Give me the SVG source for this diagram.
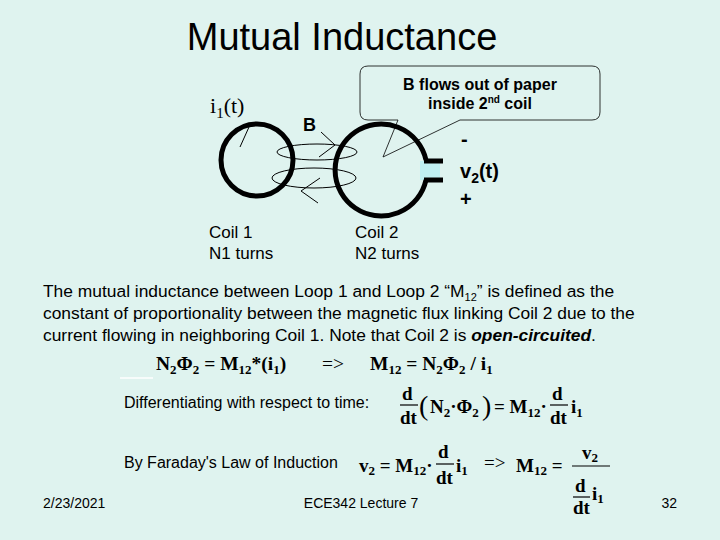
<svg xmlns="http://www.w3.org/2000/svg" width="720" height="540" viewBox="0 0 720 540">
<style>
.s{font-family:"Liberation Sans",Arial,sans-serif;fill:#000}
.t{font-family:"Liberation Serif","Times New Roman",serif;fill:#000;font-weight:bold}
.th{fill:none;stroke:#000;stroke-width:1}
</style>
<rect width="720" height="540" fill="#DFF3EF"/>
<text class="s" x="342" y="50" font-size="38" text-anchor="middle">Mutual Inductance</text>
<g id="callout">
<path d="M368,66 H592 Q600,66 600,74 V112 Q600,120 592,120 H460 L383,157 L398,120 H368 Q360,120 360,112 V74 Q360,66 368,66 Z" fill="none" stroke="#000" stroke-width="0.8"/>
<text class="s" x="480" y="90" font-size="16" font-weight="bold" text-anchor="middle">B flows out of paper</text>
<text class="s" x="480" y="109" font-size="16" font-weight="bold" text-anchor="middle">inside 2<tspan font-size="10" dy="-6">nd</tspan><tspan dy="6"> coil</tspan></text>
</g>
<g id="coil1">
<circle cx="257" cy="160" r="36" fill="none" stroke="#000" stroke-width="5"/>
<text x="210" y="113" font-family="Liberation Serif,serif" font-size="22">i<tspan font-size="15" dy="5">1</tspan><tspan dy="-5">(t)</tspan></text>
<line class="th" x1="249" y1="127" x2="240" y2="147"/>
<text class="s" x="209" y="238" font-size="17">Coil 1</text>
<text class="s" x="209" y="259" font-size="17">N1 turns</text>
</g>
<g id="coil2">
<rect x="420" y="161" width="20" height="19" fill="#BFEFF2"/>
<path d="M426,160 A46,46 0 1,0 426,180" fill="none" stroke="#000" stroke-width="5"/>
<line x1="424" y1="161" x2="443" y2="161" stroke="#000" stroke-width="5"/>
<line x1="424" y1="180" x2="443" y2="180" stroke="#000" stroke-width="5"/>
<text class="s" x="355" y="238" font-size="17">Coil 2</text>
<text class="s" x="355" y="259" font-size="17">N2 turns</text>
<text class="s" x="461" y="146" font-size="20" font-weight="bold">-</text>
<text class="s" x="460" y="178" font-size="20" font-weight="bold">v<tspan font-size="14" dy="5">2</tspan><tspan dy="-5">(t)</tspan></text>
<text class="s" x="460" y="206" font-size="20" font-weight="bold">+</text>
</g>
<g id="flux">
<ellipse class="th" cx="317" cy="152" rx="40" ry="8"/>
<ellipse class="th" cx="314" cy="178" rx="42" ry="10"/>
<polyline class="th" points="321,132 335,145 319,157"/>
<polyline class="th" points="320,178 301,191 318,203"/>
<text class="s" x="303" y="131" font-size="18" font-weight="bold">B</text>
</g>
<g id="body" class="s" font-size="17.4">
<text x="43" y="297">The mutual inductance between Loop 1 and Loop 2 “M<tspan font-size="11" dy="4">12</tspan><tspan dy="-4">” is defined as the</tspan></text>
<text x="43" y="319">constant of proportionality between the magnetic flux linking Coil 2 due to the</text>
<text x="43" y="341">current flowing in neighboring Coil 1.  Note that Coil 2 is <tspan font-weight="bold" font-style="italic">open-circuited</tspan>.</text>
</g>
<line x1="120" y1="378" x2="153" y2="378" stroke="#fff" stroke-width="1.5"/>
<g id="eq1" class="t" font-size="19.5">
<text x="156" y="370">N<tspan font-size="13" dy="4">2</tspan><tspan dy="-4">Φ</tspan><tspan font-size="13" dy="4">2</tspan><tspan dy="-4"> = M</tspan><tspan font-size="13" dy="4">12</tspan><tspan dy="-4">*(i</tspan><tspan font-size="13" dy="4">1</tspan><tspan dy="-4">)</tspan></text>
<text x="322" y="370" font-weight="normal">=&gt;</text>
<text x="370" y="370">M<tspan font-size="13" dy="4">12</tspan><tspan dy="-4"> = N</tspan><tspan font-size="13" dy="4">2</tspan><tspan dy="-4">Φ</tspan><tspan font-size="13" dy="4">2</tspan><tspan dy="-4"> / i</tspan><tspan font-size="13" dy="4">1</tspan></text>
</g>
<g id="eq2">
<text class="s" x="124" y="408" font-size="16">Differentiating with respect to time:</text>
<g class="t" font-size="19">
<text x="402" y="400">d</text><line x1="400" y1="405" x2="418" y2="405" stroke="#000" stroke-width="1.2"/><text x="400" y="424">dt</text>
<text x="419" y="415" font-size="28" font-weight="normal">(</text>
<text x="430" y="413">N<tspan font-size="13" dy="4">2</tspan><tspan dy="-4">·Φ</tspan><tspan font-size="13" dy="4">2</tspan></text>
<text x="482" y="415" font-size="28" font-weight="normal">)</text>
<text x="494" y="413">= M<tspan font-size="13" dy="4">12</tspan><tspan dy="-4">·</tspan></text>
<text x="552" y="400">d</text><line x1="550" y1="405" x2="568" y2="405" stroke="#000" stroke-width="1.2"/><text x="550" y="424">dt</text>
<text x="571" y="413">i<tspan font-size="13" dy="4">1</tspan></text>
</g>
</g>
<g id="eq3">
<text class="s" x="124" y="468" font-size="16">By Faraday's Law of Induction</text>
<g class="t" font-size="19">
<text x="359" y="472">v<tspan font-size="13" dy="3">2</tspan><tspan dy="-3"> = M</tspan><tspan font-size="13" dy="3">12</tspan><tspan dy="-3">·</tspan></text>
<text x="438" y="458">d</text><line x1="436" y1="464" x2="454" y2="464" stroke="#000" stroke-width="1.2"/><text x="436" y="484">dt</text>
<text x="456" y="472">i<tspan font-size="13" dy="3">1</tspan></text>
<text x="484" y="469" font-weight="normal">=&gt;</text>
<text x="516" y="472">M<tspan font-size="13" dy="3">12</tspan><tspan dy="-3"> =</tspan></text>
<text x="582" y="459">v<tspan font-size="13" dy="3">2</tspan></text>
<line x1="572" y1="466" x2="610" y2="466" stroke="#000" stroke-width="1.2"/>
<text x="575" y="492">d</text><line x1="573" y1="497" x2="590" y2="497" stroke="#000" stroke-width="1.2"/><text x="573" y="514">dt</text>
<text x="592" y="500">i<tspan font-size="13" dy="3">1</tspan></text>
</g>
</g>
<g id="footer" class="s" font-size="14">
<text x="43" y="508">2/23/2021</text>
<text x="361" y="508" text-anchor="middle">ECE342 Lecture 7</text>
<text x="677" y="508" text-anchor="end">32</text>
</g>
</svg>
